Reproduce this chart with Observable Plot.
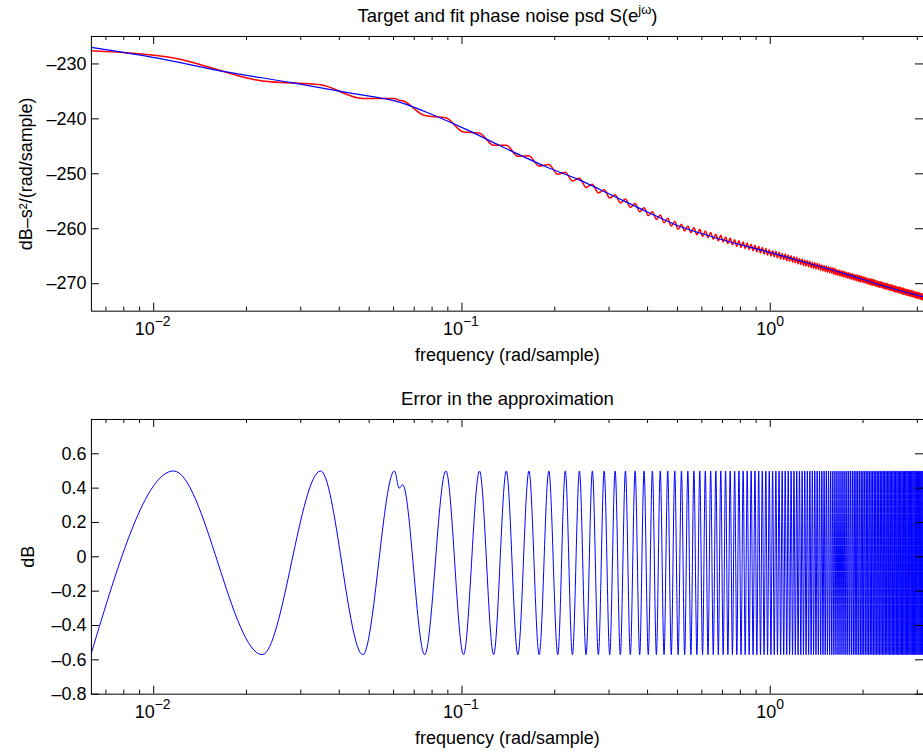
<!DOCTYPE html>
<html><head><meta charset="utf-8">
<script src="https://cdn.jsdelivr.net/npm/d3@7"></script>
<script src="https://cdn.jsdelivr.net/npm/@observablehq/plot@0.6"></script>
<style>
html,body{margin:0;padding:0;background:#fff;overflow:hidden}
#wrap{position:relative;width:923px;height:754px;overflow:hidden;font-family:"Liberation Sans",Arial,sans-serif;background:#fff}
.title{position:absolute;left:91px;width:833px;text-align:center;font-size:18.5px;line-height:20px;color:#000;white-space:nowrap}
.title sup{font-size:13px;line-height:0;vertical-align:8px}
#p1{position:absolute;left:0;top:0}
#p2{position:absolute;left:0;top:385px}
</style></head><body>
<div id="wrap">
  <div id="p1"></div>
  <div id="p2"></div>
  <div class="title" style="top:5.5px">Target and fit phase noise psd S(e<sup>jω</sup>)</div>
  <div class="title" style="top:388.5px">Error in the approximation</div>
</div>
<script>
// ---- fit (blue) curve knots: frequency (rad/sample), dB ----
const fitFreq = [0.00628, 0.0104, 0.0170, 0.0280, 0.0435, 0.0631, 0.0807, 0.104, 0.133, 0.189, 0.242, 0.309, 0.398, 0.510, 0.652, 0.840, 1.074, 1.374, 1.771, 2.265, 3.1416];
const fitDb = [-227.0, -229.0, -231.4, -233.4, -235.3, -237.0, -239.3, -242.0, -244.9, -248.8, -251.2, -254.0, -256.9, -259.6, -261.5, -263.2, -264.8, -266.5, -268.3, -270.2, -272.4];

// ---- error ripple extrema: trough and peak frequencies ----
const troughFreq = [0.0225, 0.0477, 0.0757, 0.1012, 0.1267, 0.1518, 0.1780, 0.2046, 0.2282, 0.2527, 0.2770, 0.3015, 0.3264, 0.3517, 0.3772, 0.4021, 0.4273, 0.4524, 0.4775, 0.5027, 0.5278, 0.5529, 0.5781, 0.6032, 0.6283, 0.6535, 0.6786, 0.7037, 0.7289, 0.7540, 0.7791, 0.8043, 0.8294, 0.8545, 0.8797, 0.9048, 0.9299, 0.9551, 0.9802, 1.0053, 1.0305, 1.0556, 1.0807, 1.1059, 1.1310, 1.1561, 1.1813, 1.2064, 1.2315, 1.2566, 1.2818, 1.3069, 1.3320, 1.3572, 1.3823, 1.4074, 1.4326, 1.4577, 1.4828, 1.5080, 1.5331, 1.5582, 1.5834, 1.6085, 1.6336, 1.6588, 1.6839, 1.7090, 1.7342, 1.7593, 1.7844, 1.8096, 1.8347, 1.8598, 1.8850, 1.9101, 1.9352, 1.9604, 1.9855, 2.0106, 2.0358, 2.0609, 2.0860, 2.1112, 2.1363, 2.1614, 2.1866, 2.2117, 2.2368, 2.2619, 2.2871, 2.3122, 2.3373, 2.3625, 2.3876, 2.4127, 2.4379, 2.4630, 2.4881, 2.5133, 2.5384, 2.5635, 2.5887, 2.6138, 2.6389, 2.6641, 2.6892, 2.7143, 2.7395, 2.7646, 2.7897, 2.8149, 2.8400, 2.8651, 2.8903, 2.9154, 2.9405, 2.9657, 2.9908, 3.0159, 3.0411, 3.0662, 3.0913, 3.1165, 3.1416];
const peakFreq = [0.0116, 0.0348, 0.0604, 0.0887, 0.1140, 0.1393, 0.1649, 0.1913, 0.2164, 0.2405, 0.2649, 0.2893, 0.3140, 0.3391, 0.3645, 0.3897, 0.4147, 0.4398, 0.4650, 0.4901, 0.5153, 0.5404, 0.5655, 0.5907, 0.6158, 0.6409, 0.6661, 0.6912, 0.7163, 0.7414, 0.7666, 0.7917, 0.8168, 0.8420, 0.8671, 0.8922, 0.9174, 0.9425, 0.9676, 0.9928, 1.0179, 1.0430, 1.0682, 1.0933, 1.1184, 1.1436, 1.1687, 1.1938, 1.2190, 1.2441, 1.2692, 1.2943, 1.3195, 1.3446, 1.3697, 1.3949, 1.4200, 1.4451, 1.4703, 1.4954, 1.5205, 1.5457, 1.5708, 1.5959, 1.6211, 1.6462, 1.6713, 1.6965, 1.7216, 1.7467, 1.7719, 1.7970, 1.8221, 1.8472, 1.8724, 1.8975, 1.9226, 1.9478, 1.9729, 1.9980, 2.0232, 2.0483, 2.0734, 2.0986, 2.1237, 2.1488, 2.1740, 2.1991, 2.2242, 2.2494, 2.2745, 2.2996, 2.3248, 2.3499, 2.3750, 2.4001, 2.4253, 2.4504, 2.4755, 2.5007, 2.5258, 2.5509, 2.5761, 2.6012, 2.6263, 2.6515, 2.6766, 2.7017, 2.7269, 2.7520, 2.7771, 2.8023, 2.8274, 2.8525, 2.8777, 2.9028, 2.9279, 2.9531, 2.9782, 3.0033, 3.0285, 3.0536, 3.0787, 3.1039, 3.1290];

// ---- target (red) value at each trough / peak, dB ----
const targetTroughDb = [-233.1, -236.3, -239.4, -242.4, -244.8, -246.8, -248.6, -250.1, -251.3, -252.5, -253.5, -254.4, -255.3, -256.1, -256.9, -257.6, -258.3, -258.9, -259.5, -260.1, -260.4, -260.7, -261.1, -261.4, -261.6, -261.9, -262.2, -262.4, -262.7, -262.9, -263.2, -263.4, -263.6, -263.8, -264.0, -264.2, -264.4, -264.6, -264.8, -265.0, -265.1, -265.3, -265.5, -265.6, -265.8, -265.9, -266.1, -266.2, -266.4, -266.5, -266.7, -266.8, -266.9, -267.1, -267.2, -267.3, -267.4, -267.6, -267.7, -267.8, -267.9, -268.0, -268.1, -268.3, -268.4, -268.5, -268.6, -268.7, -268.8, -268.9, -269.0, -269.1, -269.2, -269.3, -269.4, -269.5, -269.6, -269.7, -269.7, -269.8, -269.9, -270.0, -270.1, -270.2, -270.3, -270.3, -270.4, -270.5, -270.6, -270.7, -270.7, -270.8, -270.9, -271.0, -271.0, -271.1, -271.2, -271.3, -271.3, -271.4, -271.5, -271.5, -271.6, -271.7, -271.7, -271.8, -271.9, -271.9, -272.0, -272.1, -272.1, -272.2, -272.3, -272.3, -272.4, -272.4, -272.5, -272.6, -272.6, -272.7, -272.7, -272.8, -272.9, -272.9, -273.0];
const targetPeakDb = [-228.9, -233.8, -236.3, -239.8, -242.6, -244.8, -246.7, -248.3, -249.7, -250.8, -251.9, -252.9, -253.8, -254.6, -255.4, -256.2, -256.9, -257.5, -258.1, -258.7, -259.2, -259.5, -259.8, -260.1, -260.4, -260.7, -261.0, -261.2, -261.5, -261.7, -262.0, -262.2, -262.4, -262.6, -262.8, -263.0, -263.2, -263.4, -263.6, -263.8, -264.0, -264.1, -264.3, -264.5, -264.6, -264.8, -264.9, -265.1, -265.2, -265.4, -265.5, -265.7, -265.8, -265.9, -266.1, -266.2, -266.3, -266.4, -266.6, -266.7, -266.8, -266.9, -267.0, -267.1, -267.2, -267.4, -267.5, -267.6, -267.7, -267.8, -267.9, -268.0, -268.1, -268.2, -268.3, -268.4, -268.4, -268.5, -268.6, -268.7, -268.8, -268.9, -269.0, -269.1, -269.1, -269.2, -269.3, -269.4, -269.5, -269.6, -269.6, -269.7, -269.8, -269.9, -269.9, -270.0, -270.1, -270.2, -270.2, -270.3, -270.4, -270.4, -270.5, -270.6, -270.6, -270.7, -270.8, -270.8, -270.9, -271.0, -271.0, -271.1, -271.2, -271.2, -271.3, -271.3, -271.4, -271.5, -271.5, -271.6, -271.6, -271.7, -271.8, -271.8, -271.9];

// ---- error levels (dB) ----
const errTroughDb = -0.57;
const errPeakDb = 0.50;
// left edge and the small shoulder after the third peak
const extraFreq = [0.00628, 0.0626, 0.0642];
const extraErrDb = [-0.56, 0.40, 0.42];
const extraTargetDb = [-227.6, -236.6, -236.7];

// ---- ticks ----
const majorTicks = [0.01, 0.1, 1];
const majorExp = ["−2", "−1", "0"];
const minorTicks = [0.007, 0.008, 0.009, 0.02, 0.03, 0.04, 0.05, 0.06, 0.07, 0.08, 0.09, 0.2, 0.3, 0.4, 0.5, 0.6, 0.7, 0.8, 0.9, 2, 3];
const topYTicks = [-270, -260, -250, -240, -230];
const botYTicks = [-0.8, -0.6, -0.4, -0.2, 0, 0.2, 0.4, 0.6];
const xDomain = [0.00628, 3.1416];

// ---- rows for the library ----
const fitRows = fitFreq.map((f, i) => ({f, v: fitDb[i]}));
const targetRows = [
  ...troughFreq.map((f, i) => ({f, v: targetTroughDb[i]})),
  ...peakFreq.map((f, i) => ({f, v: targetPeakDb[i]})),
  ...extraFreq.map((f, i) => ({f, v: extraTargetDb[i]}))
].sort((a, b) => a.f - b.f);
const errRows = [
  ...troughFreq.map(f => ({f, v: errTroughDb})),
  ...peakFreq.map(f => ({f, v: errPeakDb})),
  ...extraFreq.map((f, i) => ({f, v: extraErrDb[i]}))
].sort((a, b) => a.f - b.f);

const W = 924, ML = 91;
const FONT = 18;
const fmtY = d => (d < 0 ? "–" : "") + String(+Math.abs(d).toFixed(1));
const centerOff = [1, 1, 6];

function decor(H, MT, MB, yTicks, ylabel, ylabelDx) {
  const fh = H - MT - MB, fw = W - ML;
  const marks = [
    Plot.frame({stroke: "black", strokeWidth: 1}),
    Plot.ruleX(majorTicks, {x: d => d, insetTop: fh - 8, stroke: "black"}),
    Plot.ruleX(majorTicks, {x: d => d, insetBottom: fh - 8, stroke: "black"}),
    Plot.ruleX(minorTicks, {x: d => d, insetTop: fh - 4, stroke: "black"}),
    Plot.ruleX(minorTicks, {x: d => d, insetBottom: fh - 4, stroke: "black"}),
    Plot.ruleY(yTicks, {y: d => d, insetRight: fw - 8, stroke: "black"}),
    Plot.ruleY(yTicks, {y: d => d, insetLeft: fw - 8, stroke: "black"}),
    Plot.axisY(yTicks, {tickSize: 0, tickPadding: 5, tickFormat: fmtY, fontSize: FONT, label: null}),
    Plot.text(["frequency (rad/sample)"], {text: d => d, frameAnchor: "bottom", lineAnchor: "bottom", textAnchor: "middle", dy: 50, fontSize: FONT}),
    Plot.text([ylabel], {text: d => d, frameAnchor: "left", textAnchor: "middle", lineAnchor: "middle", rotate: -90, dx: ylabelDx, fontSize: FONT})
  ];
  majorTicks.forEach((t, i) => {
    marks.push(Plot.text([t], {x: d => d, text: () => "10", frameAnchor: "bottom", lineAnchor: "bottom", dy: 24, dx: centerOff[i], textAnchor: "end", fontSize: FONT}));
    marks.push(Plot.text([t], {x: d => d, text: () => majorExp[i], frameAnchor: "bottom", lineAnchor: "bottom", dy: 15, dx: centerOff[i], textAnchor: "start", fontSize: 14}));
  });
  return marks;
}

const style = {fontFamily: "Liberation Sans, Arial, sans-serif", fontSize: FONT + "px", background: "white", color: "black"};

const H1 = 385, MT1 = 36, MB1 = 74;
const plot1 = Plot.plot({
  width: W, height: H1, marginLeft: ML, marginRight: 0, marginTop: MT1, marginBottom: MB1,
  style,
  x: {type: "log", domain: xDomain, axis: null},
  y: {domain: [-275, -225]},
  marks: [
    Plot.line(targetRows, {x: "f", y: "v", stroke: "#ff0000", strokeWidth: 1.5, curve: "monotone-x"}),
    Plot.line(fitRows, {x: "f", y: "v", stroke: "#0000ff", strokeWidth: 1.2, curve: "monotone-x"}),
    ...decor(H1, MT1, MB1, topYTicks, "dB–s²/(rad/sample)", -65)
  ]
});
document.getElementById("p1").appendChild(plot1);

const H2 = 369, MT2 = 34, MB2 = 60;
const plot2 = Plot.plot({
  width: W, height: H2, marginLeft: ML, marginRight: 0, marginTop: MT2, marginBottom: MB2,
  style,
  x: {type: "log", domain: xDomain, axis: null},
  y: {domain: [-0.8, 0.8]},
  marks: [
    Plot.line(errRows, {x: "f", y: "v", stroke: "#0000ff", strokeWidth: 1, curve: "monotone-x"}),
    ...decor(H2, MT2, MB2, botYTicks, "dB", -63)
  ]
});
document.getElementById("p2").appendChild(plot2);
</script>
</body></html>
